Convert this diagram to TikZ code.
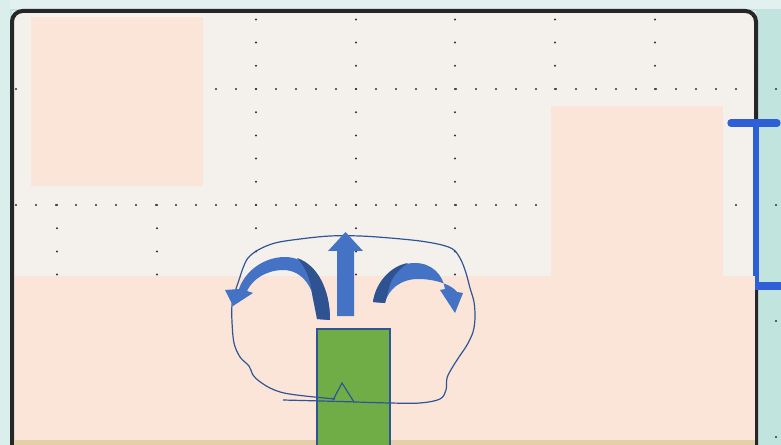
\documentclass[tikz,border=0pt]{standalone}
\definecolor{tealbg}{HTML}{C2E4DE}
\definecolor{topbg}{HTML}{E2F1EF}
\definecolor{screenc}{HTML}{F4F1EC}
\definecolor{peach}{HTML}{FBE5D8}
\definecolor{tanc}{HTML}{E5CFA8}
\definecolor{bracketc}{HTML}{2E5FD6}
\definecolor{greenbox}{HTML}{70AD47}
\definecolor{lineblue}{HTML}{2F5597}
\definecolor{arrowlight}{HTML}{4472C4}
\definecolor{arrowdark}{HTML}{2F5390}
\definecolor{dotc}{HTML}{333333}
\begin{document}
\begin{tikzpicture}[x=0.75pt,y=-0.75pt,
  gdot/.style={fill=dotc},
  patch/.style={fill=peach},
  handline/.style={draw=lineblue,line width=0.9pt,line join=round},
  bracketline/.style={draw=bracketc,line cap=round}]
\useasboundingbox (0,0) rectangle (781,445);
% background
\fill[tealbg] (0,0) rectangle (781,445);
\fill[topbg] (0,0) rectangle (781,9);
\fill[tealbg!60!white] (0,0) rectangle (10,445);
% screen
\fill[screenc] (12,11) rectangle (756,445);
% grid dots
\foreach \yy in {89,205,321,437}{
  \foreach \k in {0,...,38}{\fill[gdot] (16+20*\k,\yy) circle (0.85pt);}}
\foreach \xx in {57,157,256,356,455,555,655,755}{
  \foreach \k in {-3,...,15}{\fill[gdot] (\xx,89+23.2*\k) circle (0.85pt);}}
% frame
\draw[line width=3pt,black!85,rounded corners=8] (12,447) -- (12,11) -- (756,11) -- (756,447);
% blue bracket
\draw[bracketline,line width=5.5pt] (731,123) -- (777,123);
\draw[bracketc,line width=5pt] (756,123) -- (756,286);
\draw[bracketline,line width=5.5pt] (753,286) -- (786,286);
% peach patches
\fill[patch] (31,17) rectangle (203,186);
\fill[patch] (551,106) rectangle (723,277);
\fill[patch] (15,276) rectangle (755,440);
\fill[tanc] (14,440) rectangle (755,445);
% green box
\draw[fill=greenbox,draw=lineblue,line width=0.9pt] (317,329) rectangle (390,447);
% hand-drawn loop
\draw[handline] plot[smooth,tension=0.55] coordinates {
  (283,400) (340,401.5) (390,403) (420,403) (440,399) (446,390) (447,378)
  (452,368) (459,357) (467,345) (473,332) (475,318) (474,302) (470,288)
  (466,273) (461,260) (454,250) (442,245) (420,241) (390,238) (360,236)
  (330,236) (300,239) (275,243) (258,250) (248,258) (243,268) (239,280)
  (235,292) (232,305) (232,322) (234,343) (240,357) (249,366) (253,375)
  (259,381) (270,388) (284,393) (305,396) (335,399)};
\draw[handline,line join=miter] (333,400) -- (342,383) -- (354,402);
% up arrow
\fill[arrowlight] (337,316) -- (337,251) -- (328,251) -- (345.5,232) -- (363,251) -- (354,251) -- (354,316) -- cycle;
% left curved arrow
\fill[arrowlight] (330,320) .. controls (330,282) and (310,257) .. (285,257)
  .. controls (264,257) and (245,271) .. (239,289) -- (225,290) -- (233,306) -- (253,293) -- (247,291)
  .. controls (253,278) and (268,270) .. (283,270)
  .. controls (302,270) and (316,287) .. (317,319) -- cycle;
\fill[arrowdark] (330,320) .. controls (330,290) and (318,265) .. (297,258)
  .. controls (305,266) and (311,280) .. (312,294) -- (317,319) -- cycle;
% right curved arrow
\fill[arrowlight] (373,302) .. controls (376,279) and (395,263) .. (415,263)
  .. controls (432,263) and (443,275) .. (445,289) -- (440,290) -- (455,313) -- (463,293) -- (457,292)
  .. controls (452,285) and (436,279) .. (418,279)
  .. controls (400,279) and (388,290) .. (385,303) -- cycle;
\fill[arrowdark] (373,302) .. controls (376,283) and (390,266) .. (408,263)
  .. controls (398,270) and (391,278) .. (389,288) -- (385,303) -- cycle;
\end{tikzpicture}
\end{document}
